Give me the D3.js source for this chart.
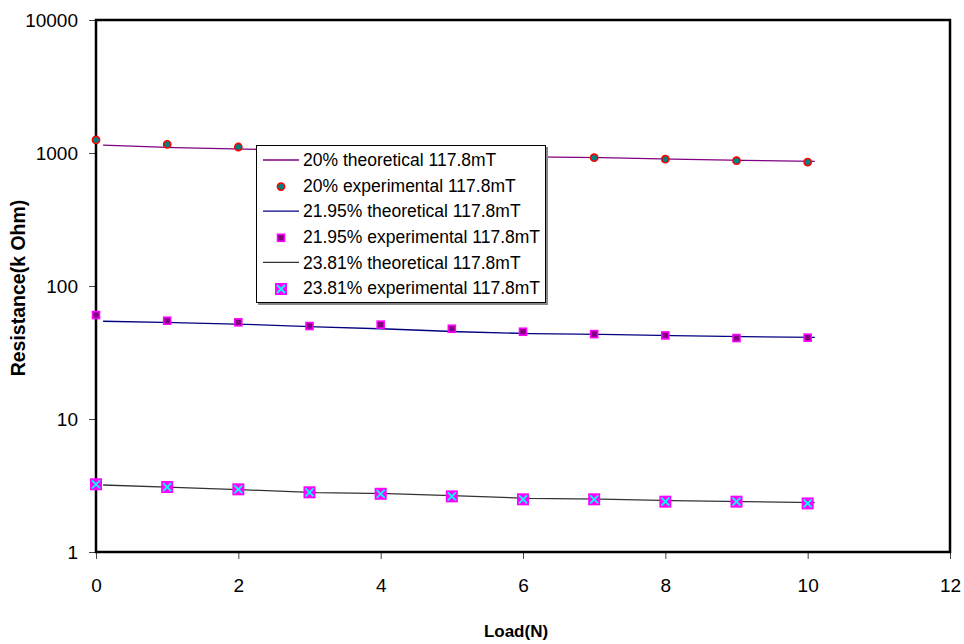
<!DOCTYPE html>
<html><head><meta charset="utf-8">
<script src="https://cdn.jsdelivr.net/npm/d3@7"></script>
<style>body{margin:0;background:#fff}svg{display:block;font-family:Arial,"Liberation Sans",sans-serif}</style>
</head><body><svg id="c" width="964" height="644"></svg>
<script>
const loadExp = [0,1,2,3,4,5,6,7,8,9,10];
const loadTheo = [0.1,1.1,2.1,3.1,4.1,5.1,6.1,7.1,8.1,9.1,10.1];
const exp20 = [1253,1162,1109,1050,1010,975,945,922,898,875,855];
const theo20 = [1148,1096,1071,1040,1000,965,935,922,898,881,866];
const exp2195 = [60.5,54.8,53.3,50.0,51.2,47.7,45.3,43.5,42.5,40.6,40.9];
const theo2195 = [54.3,53.0,51.5,49.3,47.5,45.3,43.9,43.3,42.3,41.6,41.1];
const exp2381 = [3.23,3.08,2.96,2.81,2.74,2.62,2.49,2.49,2.39,2.39,2.32];
const theo2381 = [3.19,3.06,2.93,2.80,2.75,2.64,2.53,2.50,2.43,2.39,2.35];
const xTicks = [0,2,4,6,8,10,12];
const yTicks = [1,10,100,1000,10000];
const legendLabels = ["20% theoretical 117.8mT","20% experimental 117.8mT","21.95% theoretical 117.8mT","21.95% experimental 117.8mT","23.81% theoretical 117.8mT","23.81% experimental 117.8mT"];

const svg = d3.select("#c");
const L=96,R=950,T=20,B=552;
const x = d3.scaleLinear().domain([0,12]).range([L,R]);
const y = d3.scaleLog().domain([1,10000]).range([B,T]);

// axes
const xa = svg.append("g").attr("transform",`translate(0,${B})`)
  .call(d3.axisBottom(x).tickValues(xTicks).tickFormat(d3.format("d")).tickSize(7).tickSizeOuter(0));
const ya = svg.append("g").attr("transform",`translate(${L},0)`)
  .call(d3.axisLeft(y).tickValues(yTicks).tickFormat(d3.format("d")).tickSize(7).tickSizeOuter(0));
[xa,ya].forEach(g=>{
  g.select(".domain").remove();
  g.selectAll(".tick line").attr("stroke","#444").attr("stroke-width",1);
  g.selectAll(".tick text").attr("font-size",19).attr("fill","#000").attr("font-family","Arial,'Liberation Sans',sans-serif");
});
xa.selectAll(".tick text").attr("dy",null).attr("y",null).attr("transform",null).attr("y",40);
ya.selectAll(".tick text").attr("x",-18).attr("dy","0.35em");

// frame
svg.append("rect").attr("x",L).attr("y",T).attr("width",R-L).attr("height",B-T)
  .attr("fill","none").attr("stroke","#000").attr("stroke-width",2.5);

const line = d3.line().x(d=>x(d[0])).y(d=>y(d[1]));
const pair = (xs,ys)=>xs.map((v,i)=>[v,ys[i]]);

const series = [
 {theo:theo20, exp:exp20, lc:"#800080", m:"circle"},
 {theo:theo2195, exp:exp2195, lc:"#000080", m:"square"},
 {theo:theo2381, exp:exp2381, lc:"#333333", m:"xbox"}
];

function marker(g,type,cx,cy){
  if(type==="circle"){
    g.append("circle").attr("cx",cx).attr("cy",cy).attr("r",3.6).attr("fill","#008080").attr("stroke","#ff0000").attr("stroke-width",1.6);
  } else if(type==="square"){
    g.append("rect").attr("x",cx-3.5).attr("y",cy-3.5).attr("width",7).attr("height",7).attr("fill","#800080").attr("stroke","#ff00ff").attr("stroke-width",1.6);
  } else {
    g.append("rect").attr("x",cx-6).attr("y",cy-6).attr("width",12).attr("height",12).attr("fill","#ff00ff");
    g.append("path").attr("d",`M${cx-4},${cy-4}L${cx+4},${cy+4}M${cx+4},${cy-4}L${cx-4},${cy+4}`).attr("stroke","#00ffff").attr("stroke-width",1.8);
  }
}

series.forEach(s=>{
  svg.append("path").datum(pair(loadTheo,s.theo)).attr("d",line).attr("fill","none").attr("stroke",s.lc).attr("stroke-width",1.3);
  const g = svg.append("g");
  pair(loadExp,s.exp).forEach(d=>marker(g,s.m,x(d[0]),y(d[1])));
});

// legend
const lg = svg.append("g");
lg.append("rect").attr("x",258).attr("y",147).attr("width",290).attr("height",158).attr("fill","#888");
lg.append("rect").attr("x",256.5).attr("y",145.5).attr("width",289).attr("height",157).attr("fill","#fff").attr("stroke","#000").attr("stroke-width",1);
const rowY = i=>160+i*25.6;
legendLabels.forEach((t,i)=>{
  const cy=rowY(i);
  if(i%2===0){
    lg.append("line").attr("x1",263).attr("x2",299).attr("y1",cy).attr("y2",cy).attr("stroke",series[i/2].lc).attr("stroke-width",1.3);
  } else {
    marker(lg,series[(i-1)/2].m,281,cy+1);
  }
  lg.append("text").attr("x",303).attr("y",cy).attr("dy","0.35em").attr("font-size",17.5).text(t);
});

// titles
svg.append("text").attr("x",516).attr("y",637).attr("text-anchor","middle").attr("font-weight","bold").attr("font-size",17).text("Load(N)");
svg.append("text").attr("transform","translate(25,288) rotate(-90)").attr("text-anchor","middle").attr("font-weight","bold").attr("font-size",19.5).text("Resistance(k Ohm)");
</script></body></html>
